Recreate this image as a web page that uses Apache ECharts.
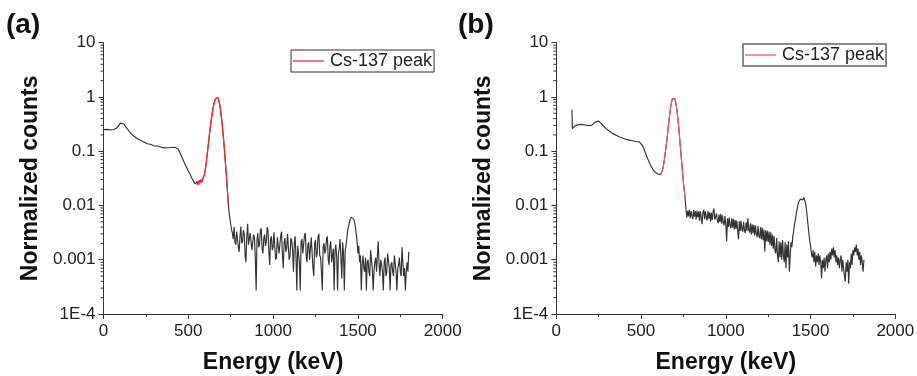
<!DOCTYPE html>
<html><head><meta charset="utf-8">
<script src="https://cdn.jsdelivr.net/npm/echarts@6/dist/echarts.min.js"></script>
<style>html,body{margin:0;padding:0;background:#fff}#c{width:917px;height:376px}</style>
</head><body><div id="c"></div>
<script>
// ---------- text ----------
const panelLabels = ['(a)', '(b)'];
const xAxisTitle = 'Energy (keV)';
const yAxisTitle = 'Normalized counts';
const legendLabel = 'Cs-137 peak';
const yTickLabels = ['1E-4', '0.001', '0.01', '0.1', '1', '10'];
const xTickLabels = ['0', '500', '1000', '1500', '2000'];

// ---------- panel (a) ----------
const lowEnergyA = [0,10,20,30,40,50,60,70,80,90,100,110,120,130,140,150,160,170,180,190,200,210,220,230,240,250,260,270,280,290,300,310,320,330,340,350,360,370,380,390,400,410,420,430,440,450,460,470,480,490,500,510,520,530,540,545];
const lowCountsA = [0.250,0.245,0.252,0.240,0.248,0.243,0.251,0.256,0.272,0.300,0.330,0.350,0.318,0.285,0.262,0.236,0.214,0.201,0.188,0.179,0.170,0.163,0.158,0.150,0.147,0.139,0.137,0.130,0.133,0.126,0.125,0.121,0.125,0.119,0.118,0.122,0.115,0.119,0.116,0.121,0.117,0.123,0.118,0.123,0.110,0.095,0.081,0.068,0.058,0.050,0.043,0.038,0.032,0.030,0.025,0.027];

const peakEnergyA = [550,555,560,565,570,575,580,585,590,595,600,605,610,615,620,625,630,635,640,645,650,655,660,665,670,675,680,685,690,695,700,705,710,715,720,725,730,736];
const peakCountsA = [0.024,0.028,0.024,0.029,0.026,0.030,0.027,0.031,0.033,0.037,0.045,0.058,0.080,0.110,0.150,0.210,0.280,0.370,0.470,0.600,0.720,0.830,0.930,0.990,1.000,0.960,0.860,0.740,0.580,0.430,0.310,0.210,0.140,0.090,0.055,0.034,0.020,0.0107];

const tailEnergyA = [
740,745,750,755,760,765,770,775,780,785,
790,795,800,805,810,815,820,825,830,835,
840,845,850,855,860,865,870,875,880,885,
890,895,900,905,910,915,920,925,930,935,
940,945,950,955,960,965,970,975,980,985,
990,995,1000,1005,1010,1015,1020,1025,1030,1035,
1040,1045,1050,1055,1060,1065,1070,1075,1080,1085,
1090,1095,1100,1105,1110,1115,1120,1125,1130,1135,
1140,1145,1150,1155,1160,1165,1170,1175,1180,1185,
1190,1195,1200,1205,1210,1215,1220,1225,1230,1235,
1240,1245,1250,1255,1260,1265,1270,1275,1280,1285,
1290,1295,1300,1305,1310,1315,1320,1325,1330,1335,
1340,1345,1350,1355,1360,1365,1370,1375,1380,1385,
1390,1395,1400,1405,1410,1415,1420,1425,1430,1435,
1440,1445,1450,1455,1460,1465,1470,1475,1480,1485,
1490,1495,1500,1505,1510,1515,1520,1525,1530,1535,
1540,1545,1550,1555,1560,1565,1570,1575,1580,1585,
1590,1595,1600,1605,1610,1615,1620,1625,1630,1635,
1640,1645,1650,1655,1660,1665,1670,1675,1680,1685,
1690,1695,1700,1705,1710,1715,1720,1725,1730,1735,
1740,1745,1750,1755,1760,1765,1770,1775,1780,1785,
1790,1795,1800];
const tailCountsA = [
0.0078,0.0058,0.0045,0.0036,0.0031,0.0024,0.0040,0.0021,0.0019,0.0033,
0.0034,0.0017,0.0014,0.0028,0.0041,0.0020,0.0022,0.0035,0.0030,0.0012,
0.0009,0.0027,0.0046,0.0019,0.0020,0.0031,0.0033,0.0015,0.0016,0.0029,
0.0026,0.0011,0.00027,0.0023,0.0031,0.0017,0.0019,0.0034,0.0038,0.0016,
0.0013,0.0025,0.0029,0.0018,0.0021,0.0040,0.0035,0.0014,0.0008,0.0024,
0.0027,0.0015,0.0017,0.0032,0.0030,0.0010,0.0011,0.0026,0.0024,0.0013,
0.0019,0.0028,0.0033,0.0012,0.0007,0.0021,0.0025,0.0014,0.0016,0.0030,
0.0029,0.0010,0.0012,0.0025,0.0022,0.0015,0.0006,0.0020,0.0027,0.0011,
0.00027,0.0018,0.0019,0.0009,0.00027,0.0021,0.0024,0.0013,0.0014,0.0028,
0.0031,0.0012,0.0009,0.0019,0.0021,0.0010,0.0016,0.0026,0.0028,0.0007,
0.0005,0.0020,0.0023,0.0011,0.0013,0.0027,0.0030,0.0012,0.0011,0.0006,
0.00027,0.0017,0.0020,0.0013,0.0015,0.0024,0.0027,0.0010,0.0008,0.0018,
0.0022,0.0009,0.0012,0.0016,0.00027,0.0014,0.0019,0.0011,0.00027,0.0013,
0.0016,0.0024,0.0011,0.00045,0.0021,0.0013,0.00027,0.0015,0.0018,0.0026,
0.0035,0.0042,0.0049,0.0055,0.0061,0.0058,0.0065,0.0056,0.0050,0.0041,
0.0030,0.0022,0.0013,0.0018,0.0009,0.0012,0.00027,0.0008,0.0012,0.0007,
0.0006,0.0011,0.00027,0.0009,0.0010,0.0006,0.0005,0.0015,0.0016,0.0007,
0.00027,0.0006,0.0009,0.0011,0.0006,0.0012,0.0022,0.0008,0.0005,0.0010,
0.0008,0.0006,0.00027,0.0009,0.0011,0.0005,0.0006,0.0013,0.0014,0.0007,
0.00027,0.0008,0.0009,0.0006,0.0005,0.0012,0.0013,0.0006,0.00027,0.0007,
0.0008,0.0011,0.0006,0.0005,0.0017,0.0009,0.0005,0.0007,0.00027,0.0006,
0.0009,0.0006,0.0014];

// ---------- panel (b) ----------
const lowEnergyB = [92,95,100,110,120,130,140,150,160,170,180,190,200,210,220,230,240,250,260,270,280,290,300,310,320,330,340,350,360,370,380,390,400,410,420,430,440,450,460,470,480,490,500,510,520,530,540,550,560,570,580,590,600,605,610];
const lowCountsB = [0.58,0.26,0.275,0.294,0.305,0.309,0.316,0.312,0.318,0.304,0.301,0.297,0.294,0.302,0.320,0.345,0.365,0.358,0.340,0.314,0.290,0.266,0.250,0.238,0.228,0.215,0.209,0.200,0.194,0.185,0.181,0.175,0.172,0.166,0.165,0.160,0.158,0.156,0.154,0.151,0.152,0.149,0.142,0.125,0.104,0.086,0.072,0.061,0.052,0.046,0.042,0.040,0.038,0.037,0.038];

const peakEnergyB = [615,620,625,630,635,640,645,650,655,660,665,670,675,680,685,690,695,700,705,710,715,720,725,730,735,740,745,750,755,760];
const peakCountsB = [0.037,0.039,0.043,0.050,0.062,0.080,0.105,0.140,0.190,0.270,0.370,0.500,0.660,0.800,0.920,0.990,0.990,0.920,0.780,0.620,0.460,0.330,0.220,0.140,0.095,0.060,0.040,0.027,0.019,0.013];

const tailEnergyB = [
765,770,775,780,785,790,795,800,805,810,
815,820,825,830,835,840,845,850,855,860,
865,870,875,880,885,890,895,900,905,910,
915,920,925,930,935,940,945,950,955,960,
965,970,975,980,985,990,995,1000,1005,1010,
1015,1020,1025,1030,1035,1040,1045,1050,1055,1060,
1065,1070,1075,1080,1085,1090,1095,1100,1105,1110,
1115,1120,1125,1130,1135,1140,1145,1150,1155,1160,
1165,1170,1175,1180,1185,1190,1195,1200,1205,1210,
1215,1220,1225,1230,1235,1240,1245,1250,1255,1260,
1265,1270,1275,1280,1285,1290,1295,1300,1305,1310,
1315,1320,1325,1330,1335,1340,1345,1350,1355,1360,
1365,1370,1375,1380,1385,1390,1395,1400,1405,1410,
1415,1420,1425,1430,1435,1440,1445,1450,1455,1460,
1465,1470,1475,1480,1485,1490,1495,1500,1505,1510,
1515,1520,1525,1530,1535,1540,1545,1550,1555,1560,
1565,1570,1575,1580,1585,1590,1595,1600,1605,1610,
1615,1620,1625,1630,1635,1640,1645,1650,1655,1660,
1665,1670,1675,1680,1685,1690,1695,1700,1705,1710,
1715,1720,1725,1730,1735,1740,1745,1750,1755,1760,
1765,1770,1775,1780,1785,1790,1795,1800,1805,1810,
1815];
const tailCountsB = [
0.0085,0.0060,0.0080,0.0063,0.0083,0.0058,0.0079,0.0065,0.0056,0.0082,
0.0062,0.0078,0.0055,0.0080,0.0061,0.0077,0.0052,0.0079,0.0060,0.0045,
0.0074,0.0083,0.0056,0.0078,0.0060,0.0053,0.0080,0.0057,0.0075,0.0050,
0.0073,0.0054,0.0076,0.0088,0.0055,0.0051,0.0071,0.0053,0.0047,0.0068,
0.0050,0.0070,0.0046,0.0066,0.0048,0.0043,0.0064,0.0045,0.0022,0.0058,
0.0040,0.0060,0.0042,0.0038,0.0058,0.0039,0.0056,0.0036,0.0054,0.0037,
0.0053,0.0035,0.0024,0.0051,0.0034,0.0052,0.0036,0.0033,0.0050,0.0035,
0.0031,0.0049,0.0034,0.0058,0.0036,0.0032,0.0047,0.0029,0.0045,0.0031,
0.0044,0.0028,0.0043,0.0030,0.0026,0.0042,0.0028,0.0025,0.0040,0.0024,
0.0039,0.0023,0.0036,0.0014,0.0035,0.0022,0.0034,0.0021,0.0033,0.0019,
0.0032,0.0018,0.0029,0.0016,0.0027,0.0015,0.0013,0.0025,0.0012,0.0009,
0.0022,0.0011,0.0021,0.0010,0.0023,0.0012,0.0009,0.0021,0.0007,0.0019,
0.0011,0.0022,0.0006,0.0012,0.0021,0.0017,0.0027,0.0033,0.0045,0.0054,
0.0068,0.0084,0.0100,0.0116,0.0126,0.0131,0.0122,0.0138,0.0127,0.0140,
0.0126,0.0112,0.0089,0.0064,0.0044,0.0031,0.0023,0.0018,0.0013,0.0011,
0.0015,0.0009,0.0014,0.00075,0.0012,0.0009,0.0013,0.0008,0.0012,0.0009,
0.00045,0.0010,0.0007,0.0011,0.0006,0.0010,0.0012,0.0007,0.0013,0.0009,
0.0014,0.0010,0.0016,0.0012,0.0017,0.0011,0.0015,0.0009,0.0012,0.0008,
0.0011,0.0007,0.0010,0.0012,0.0006,0.0010,0.0007,0.0005,0.0004,0.0009,
0.0006,0.0010,0.00036,0.0009,0.0007,0.0013,0.0008,0.0015,0.0012,0.0017,
0.0014,0.0019,0.0012,0.0016,0.0010,0.0014,0.0008,0.0012,0.0009,0.0006,
0.0010];

// ---------- build ----------
const zip = (e, v) => e.map((x, i) => [x, v[i]]);
const spectrumA = zip(lowEnergyA, lowCountsA).concat(zip(peakEnergyA, peakCountsA), zip(tailEnergyA, tailCountsA));
const spectrumB = zip(lowEnergyB, lowCountsB).concat(zip(peakEnergyB, peakCountsB), zip(tailEnergyB, tailCountsB));

// log minor tick positions (2..9 x 10^n), axis decoration only
const minorVals = [];
for (let p = -4; p < 1; p++) for (let k = 2; k <= 9; k++) minorVals.push([0, k * Math.pow(10, p)]);

const axisColor = '#333';
const FONT = 'Liberation Sans, Arial, sans-serif';

function xAxisCfg(gi) {
  return {
    type: 'value', gridIndex: gi, min: 0, max: 2000, interval: 500,
    name: xAxisTitle, nameLocation: 'middle', nameGap: 37,
    nameTextStyle: { fontSize: 23, fontWeight: 'bold', color: '#111', fontFamily: FONT },
    axisLine: { show: true, onZero: false, lineStyle: { color: axisColor, width: 1 } },
    axisTick: { show: true, inside: false, length: 5, lineStyle: { color: axisColor } },
    minorTick: { show: true, splitNumber: 2, length: 3, lineStyle: { color: axisColor } },
    splitLine: { show: false }, minorSplitLine: { show: false },
    axisLabel: { fontSize: 17, color: '#222', margin: 9, fontFamily: FONT,
      showMinLabel: true, showMaxLabel: true,
      formatter: v => xTickLabels[Math.round(v / 500)] }
  };
}
function yAxisCfg(gi) {
  return {
    type: 'log', logBase: 10, gridIndex: gi, min: 1e-4, max: 10,
    name: yAxisTitle, nameLocation: 'middle', nameGap: 61, nameRotate: 90,
    nameTextStyle: { fontSize: 23, fontWeight: 'bold', color: '#111', fontFamily: FONT },
    axisLine: { show: true, onZero: false, lineStyle: { color: axisColor, width: 1 } },
    axisTick: { show: true, inside: false, length: 5, lineStyle: { color: axisColor } },
    splitLine: { show: false },
    axisLabel: { fontSize: 17, color: '#222', margin: 8, fontFamily: FONT,
      showMinLabel: true, showMaxLabel: true,
      formatter: v => yTickLabels[Math.round(Math.log10(v)) + 4] }
  };
}
function minorTickSeries(gi) {
  return {
    type: 'custom', xAxisIndex: gi, yAxisIndex: gi, data: minorVals, clip: false, silent: true, z: 1,
    renderItem: (params, api) => {
      const p = api.coord([0, api.value(1)]);
      return { type: 'line', shape: { x1: p[0] - 3, y1: p[1], x2: p[0], y2: p[1] },
        style: { stroke: axisColor, lineWidth: 1 } };
    }
  };
}
function legendCfg(name, left, top, border, bw, color) {
  return {
    data: [name], formatter: () => legendLabel, left: left, top: top,
    orient: 'horizontal', icon: 'rect', itemWidth: 31, itemHeight: 1.3, itemGap: 0,
    itemStyle: { color: color, borderWidth: 0 },
    padding: [2, 2, 2, 2], borderColor: border, borderWidth: bw, borderRadius: 0,
    backgroundColor: '#fff',
    textStyle: { fontSize: 18, color: '#222', fontFamily: FONT, padding: [0, 0, 0, 1] },
    selectedMode: false
  };
}

const chart = echarts.init(document.getElementById('c'), null, { renderer: 'canvas' });
chart.setOption({
  animation: false,
  backgroundColor: '#fff',
  textStyle: { fontFamily: FONT },
  grid: [
    { left: 103.5, right: 474.3, top: 42.7, bottom: 62, containLabel: false, outerBoundsMode: 'none' },
    { left: 556.3, right: 21.7, top: 42.7, bottom: 62, containLabel: false, outerBoundsMode: 'none' }
  ],
  xAxis: [xAxisCfg(0), xAxisCfg(1)],
  yAxis: [yAxisCfg(0), yAxisCfg(1)],
  legend: [
    legendCfg('peakA', 291, 50, '#333', 1, '#ff2a2a'),
    legendCfg('peakB', 743, 44, '#666', 1.5, '#ff5858')
  ],
  graphic: [
    { type: 'text', left: 6, top: 11, style: { text: panelLabels[0], fontSize: 28, fontWeight: 'bold', fill: '#111', fontFamily: FONT } },
    { type: 'text', left: 458, top: 11, style: { text: panelLabels[1], fontSize: 28, fontWeight: 'bold', fill: '#111', fontFamily: FONT } }
  ],
  series: [
    { name: 'spectrumA', type: 'line', xAxisIndex: 0, yAxisIndex: 0, data: spectrumA, symbol: 'none', showSymbol: false,
      lineStyle: { color: '#333', width: 1.15 }, z: 2 },
    { name: 'peakA', type: 'line', xAxisIndex: 0, yAxisIndex: 0, data: zip(peakEnergyA, peakCountsA), symbol: 'none', showSymbol: false,
      lineStyle: { color: '#ff2a2a', width: 1.2 }, itemStyle: { color: '#ff2a2a' }, z: 3 },
    { name: 'spectrumB', type: 'line', xAxisIndex: 1, yAxisIndex: 1, data: spectrumB, symbol: 'none', showSymbol: false,
      lineStyle: { color: '#333', width: 1.15 }, z: 2 },
    { name: 'peakB', type: 'line', xAxisIndex: 1, yAxisIndex: 1, data: zip(peakEnergyB, peakCountsB), symbol: 'none', showSymbol: false,
      lineStyle: { color: '#ff5858', width: 1.1 }, itemStyle: { color: '#ff5858' }, z: 3 },
    minorTickSeries(0),
    minorTickSeries(1)
  ]
});
</script>
</body></html>
